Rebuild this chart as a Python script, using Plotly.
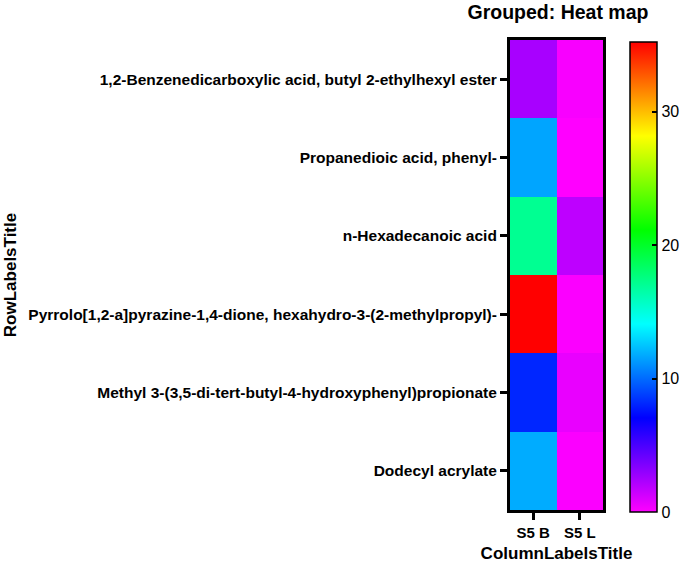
import plotly.graph_objects as go

# rows top -> bottom
compounds = [
    "1,2-Benzenedicarboxylic acid, butyl 2-ethylhexyl ester",
    "Propanedioic acid, phenyl-",
    "n-Hexadecanoic acid",
    "Pyrrolo[1,2-a]pyrazine-1,4-dione, hexahydro-3-(2-methylpropyl)-",
    "Methyl 3-(3,5-di-tert-butyl-4-hydroxyphenyl)propionate",
    "Dodecyl acrylate",
]
samples = ["S5 B", "S5 L"]
s5_b = [2.4, 11.6, 17.1, 35.2, 8.1, 11.8]
s5_l = [0.2, 0.0, 1.8, 0.1, 0.6, 0.1]

z = [[b, l] for b, l in zip(s5_b, s5_l)]

rainbow = [
    [0.0, "#ff00ff"],
    [0.2, "#0000ff"],
    [0.4, "#00ffff"],
    [0.6, "#00ff00"],
    [0.8, "#ffff00"],
    [1.0, "#ff0000"],
]

W, H = 685, 565
fig = go.Figure(go.Heatmap(
    z=z, x=samples, y=compounds,
    colorscale=rainbow, zmin=0, zmax=35.2,
    colorbar=dict(
        x=1 + 27 / 93, xanchor="left", xpad=0,
        y=0.495, yanchor="middle", ypad=0,
        lenmode="pixels", len=470, thickness=27,
        outlinecolor="black", outlinewidth=1.5,
        tickvals=[0, 10, 20, 30], ticks="inside", ticklen=5,
        tickcolor="black", tickwidth=2,
        tickfont=dict(family="Arial", size=16, color="black"),
    ),
))

fig.update_layout(
    width=W, height=H,
    margin=dict(l=510, r=82, t=40, b=55, autoexpand=False),
    paper_bgcolor="white", plot_bgcolor="white",
    font=dict(family="Arial", color="black"),
    title=dict(text="<b>Grouped: Heat map</b>", x=558 / W, xanchor="center",
               y=1 - 12 / H, yanchor="middle", font=dict(size=19.5)),
)
fig.update_xaxes(
    side="bottom", showline=True, linecolor="black", linewidth=3, mirror=True,
    ticks="outside", ticklen=7, tickwidth=2.5, tickcolor="black",
    tickfont=dict(size=15, weight="bold"),
    title=dict(text="<b>ColumnLabelsTitle</b>", font=dict(size=17), standoff=8),
)
fig.update_yaxes(
    autorange="reversed", showline=True, linecolor="black", linewidth=3, mirror=True,
    ticks="outside", ticklen=7, tickwidth=2.5, tickcolor="black",
    tickfont=dict(size=15.5, weight="bold"),
    title=dict(text="<b>RowLabelsTitle</b>", font=dict(size=17), standoff=8),
)

# the page's default body margin would shift the figure by 8px
fig.write_html("out.html", config={"displayModeBar": False},
               post_script="document.body.style.margin='0';")
